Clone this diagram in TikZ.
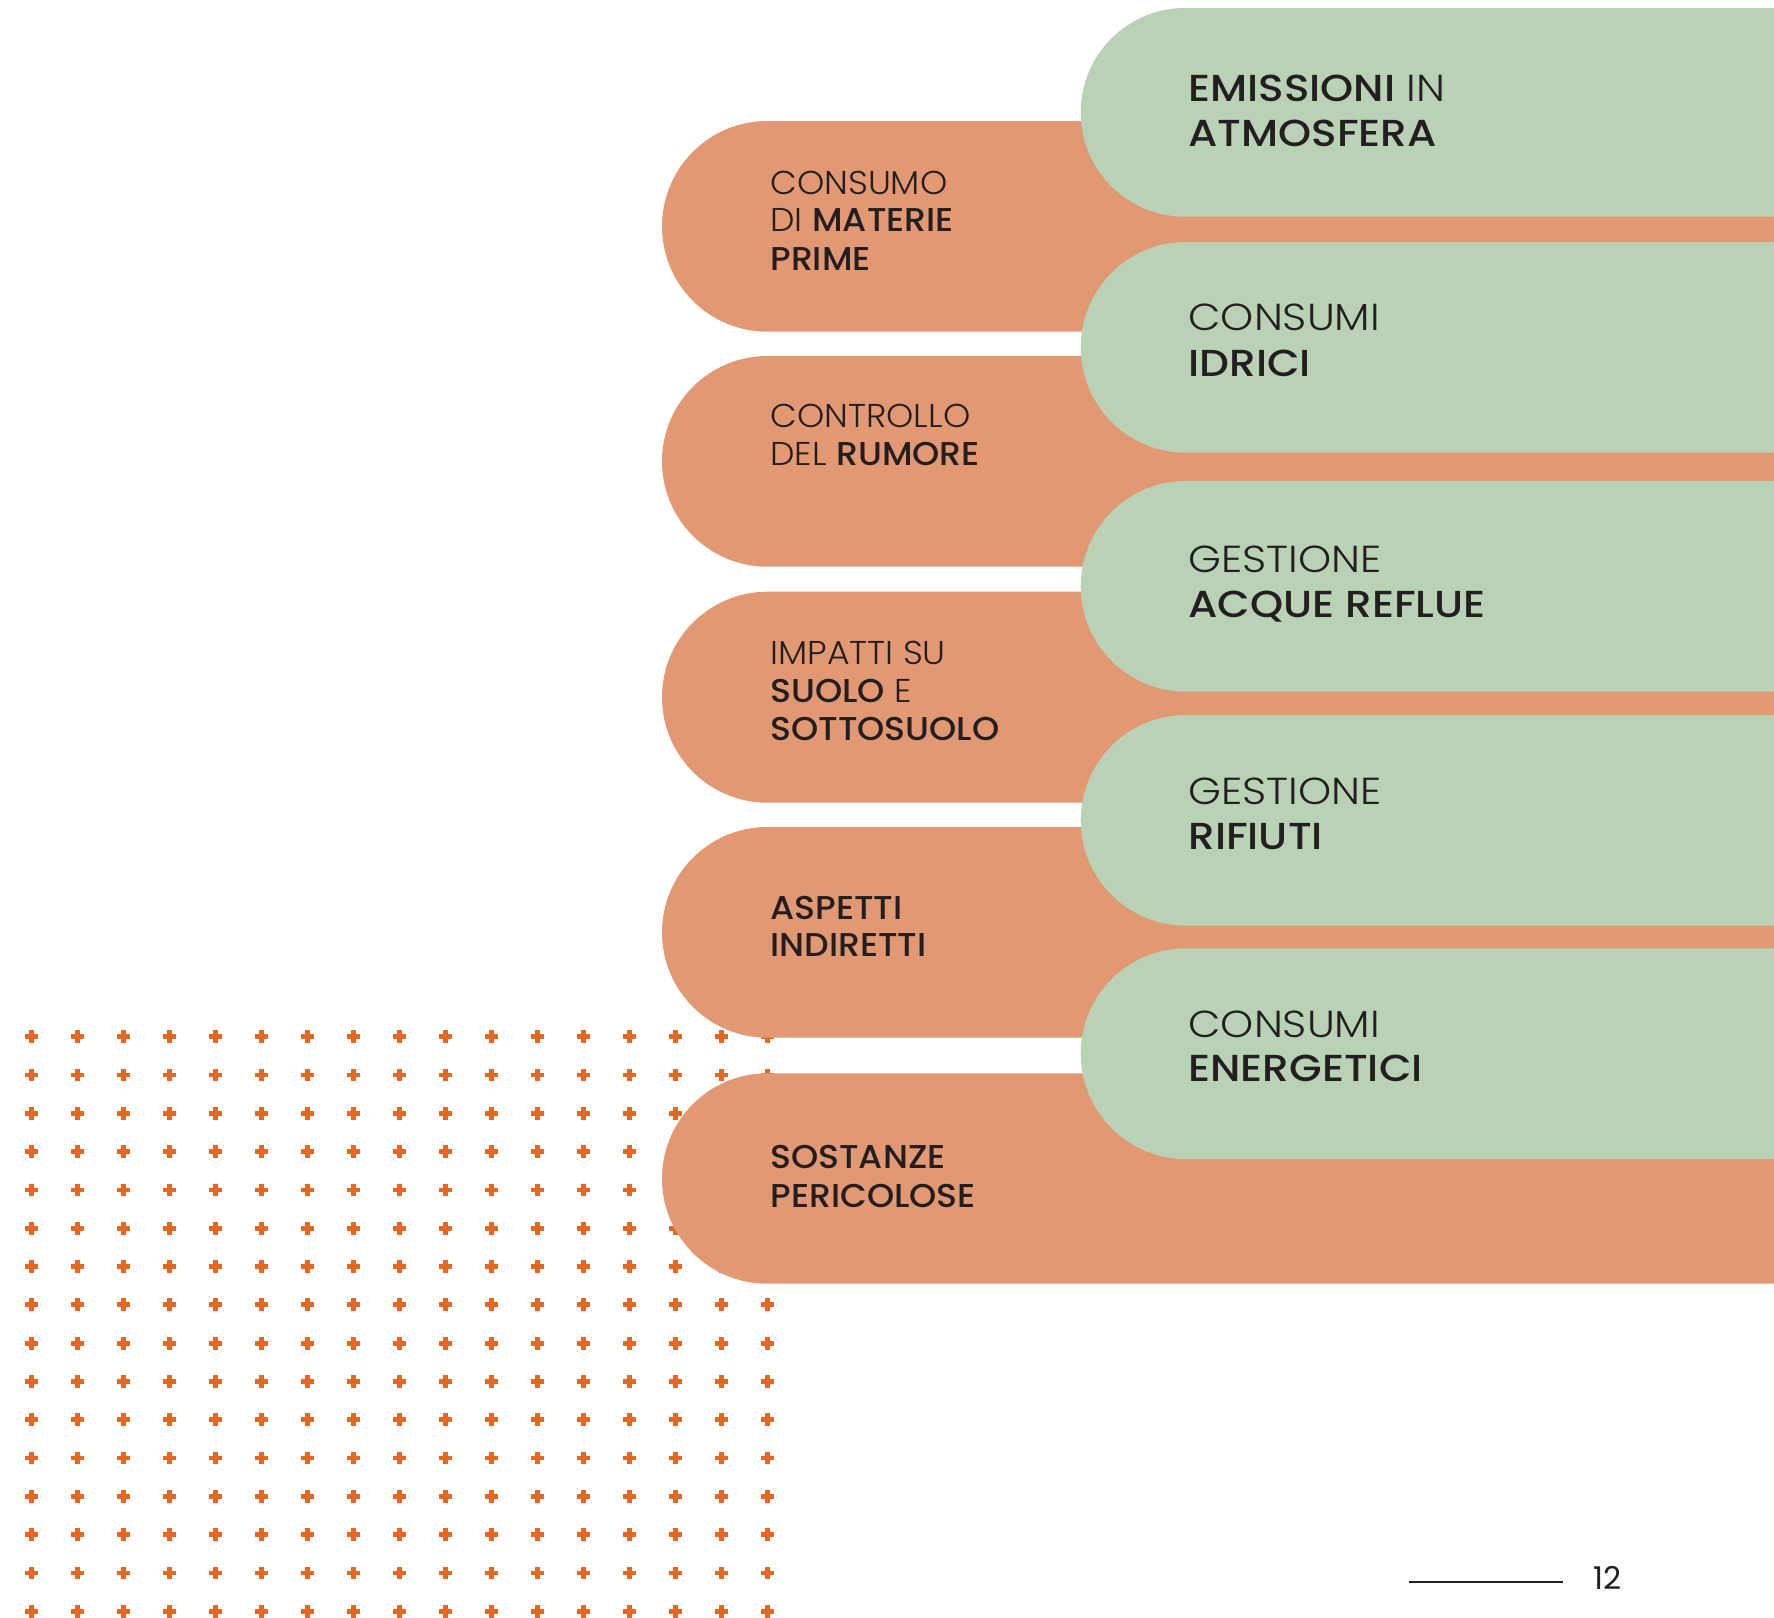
\documentclass[tikz,border=0pt]{standalone}
\usepackage{fontspec}
\newfontfamily\lightf{Poppins Light}[FakeStretch=1.05]
\newfontfamily\boldf{Poppins Medium}[FakeStretch=1.05]
\newfontfamily\lightg{Poppins Light}[FakeStretch=1.12]
\newfontfamily\boldg{Poppins Medium}[FakeStretch=1.12]
\newfontfamily\regf{Poppins}
\definecolor{pillor}{RGB}{226,152,115}
\definecolor{pillgr}{RGB}{185,210,182}
\definecolor{plusc}{RGB}{227,104,38}
\definecolor{ink}{RGB}{35,31,32}
\tikzset{
  otext/.style={anchor=base west, inner sep=0pt, text=ink, font=\fontsize{16.5}{18}\selectfont},
  gtext/.style={anchor=base west, inner sep=0pt, text=ink, font=\fontsize{18.8}{20}\selectfont},
  pluss/.style={fill=plusc},
}
\newcommand\mypill[4]{% colour, left, top, bottom
  \fill[#1] (1774,-#3) -- ({#2+(#4-#3)/2},-#3) arc[start angle=90,end angle=270,radius={(#4-#3)/2}] -- (1774,-#4) -- cycle;}
\begin{document}
\begin{tikzpicture}[x=0.5pt,y=0.5pt]
\fill[white] (0,0) rectangle (1774,-1618);
\useasboundingbox (0,0) rectangle (1774,-1618);
% plus pattern
\foreach \i in {0,...,16}{
  \foreach \j in {0,...,15}{
    \path[pluss] ({31.7+46*\i-6.4},{-(1036.7+38.3*\j)-2.4}) rectangle ++(12.8,4.8);
    \path[pluss] ({31.7+46*\i-2.4},{-(1036.7+38.3*\j)-6.4}) rectangle ++(4.8,12.8);
  }
}
% orange pills
\mypill{pillor}{662}{121}{331.7}
\mypill{pillor}{662}{356}{566.7}
\mypill{pillor}{662}{591.7}{802.7}
\mypill{pillor}{662}{827}{1037.7}
\mypill{pillor}{662}{1073.3}{1283.7}
% green pills
\mypill{pillgr}{1080.7}{8}{216.7}
\mypill{pillgr}{1080.7}{242}{452.7}
\mypill{pillgr}{1080.7}{481}{691.7}
\mypill{pillgr}{1080.7}{715}{925.7}
\mypill{pillgr}{1080.7}{948.3}{1159}
% orange texts
\node[otext] (o1a) at (770,-194) {\lightf CONSUMO};
\node[otext] (o1b) at (770,-231.7) {\lightf DI \boldf MATERIE};
\node[otext] (o1c) at (770,-270) {\boldf PRIME};
\node[otext] (o2a) at (770,-427.3) {\lightf CONTROLLO};
\node[otext] (o2b) at (770,-465) {\lightf DEL \boldf RUMORE};
\node[otext] (o3a) at (770,-664.7) {\lightf IMPATTI SU};
\node[otext] (o3b) at (770,-702.7) {\boldf SUOLO\lightf{} E};
\node[otext] (o3c) at (770,-740.7) {\boldf SOTTOSUOLO};
\node[otext] (o4a) at (770,-919.3) {\boldf ASPETTI};
\node[otext] (o4b) at (770,-956.7) {\boldf INDIRETTI};
\node[otext] (o5a) at (770,-1168.8) {\boldf SOSTANZE};
\node[otext] (o5b) at (770,-1207) {\boldf PERICOLOSE};
% green texts
\node[gtext] (g1a) at (1188,-101.5) {\boldg EMISSIONI\lightg{} IN};
\node[gtext] (g1b) at (1188,-146.5) {\boldg ATMOSFERA};
\node[gtext] (g2a) at (1188,-330.7) {\lightg CONSUMI};
\node[gtext] (g2b) at (1188,-376) {\boldg IDRICI};
\node[gtext] (g3a) at (1188,-572.8) {\lightg GESTIONE};
\node[gtext] (g3b) at (1188,-617) {\boldg ACQUE REFLUE};
\node[gtext] (g4a) at (1188,-804) {\lightg GESTIONE};
\node[gtext] (g4b) at (1188,-849) {\boldg RIFIUTI};
\node[gtext] (g5a) at (1188,-1037.7) {\lightg CONSUMI};
\node[gtext] (g5b) at (1188,-1081.7) {\boldg ENERGETICI};
% page number
\node[anchor=base west, inner sep=0pt, text=ink, font=\regf\fontsize{15.7}{18}\selectfont] (pnum) at (1593,-1589) {12};
\coordinate (pl1) at (1409,-1581.7);
\coordinate (pl2) at (1563,-1581.7);
\draw[ink, line width=1.2pt] (pl1) -- (pl2);
\end{tikzpicture}
\end{document}
